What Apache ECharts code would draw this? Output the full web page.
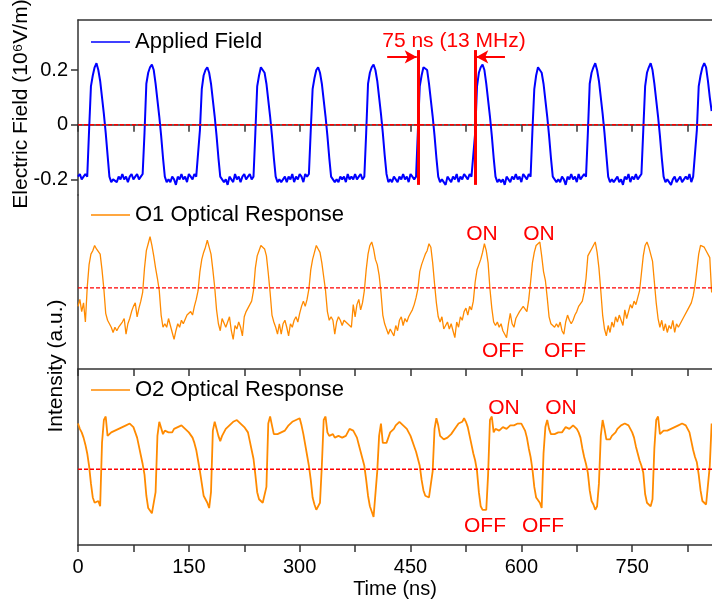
<!DOCTYPE html>
<html>
<head>
<meta charset="utf-8">
<script src="https://cdn.jsdelivr.net/npm/echarts@6.0.0/dist/echarts.min.js"></script>
<style>
  html, body { margin: 0; padding: 0; background: #fff; }
  #main { width: 712px; height: 606px; }
</style>
</head>
<body>
<div id="main"></div>
<script>
// samples are 2.5 ns apart, starting at t = 0
var STEP_NS = 2.5;

// applied field, 10^6 V/m
var fieldValues = [
  -0.19,-0.18,-0.20,-0.19,-0.18,-0.19,
  -0.02,0.14,0.18,0.21,0.225,0.20,0.16,0.10,0.04,-0.03,-0.11,-0.19,-0.21,-0.20,
  -0.20,-0.21,-0.19,-0.20,-0.18,-0.20,-0.19,-0.21,-0.19,-0.18,-0.20,-0.19,-0.18,-0.20,-0.19,-0.18,
  -0.03,0.15,0.19,0.21,0.22,0.20,0.15,0.09,0.03,-0.04,-0.12,-0.19,-0.21,-0.20,
  -0.21,-0.19,-0.20,-0.22,-0.19,-0.20,-0.18,-0.20,-0.19,-0.21,-0.18,-0.19,-0.20,-0.18,-0.19,-0.19,
  -0.02,0.13,0.18,0.20,0.21,0.19,0.15,0.09,0.03,-0.04,-0.12,-0.19,-0.20,-0.21,
  -0.20,-0.22,-0.19,-0.20,-0.21,-0.18,-0.20,-0.19,-0.21,-0.19,-0.18,-0.20,-0.19,-0.18,-0.20,-0.19,
  -0.03,0.14,0.18,0.21,0.215,0.19,0.15,0.09,0.03,-0.04,-0.12,-0.19,-0.21,-0.20,
  -0.21,-0.20,-0.19,-0.21,-0.19,-0.20,-0.18,-0.21,-0.19,-0.20,-0.18,-0.19,-0.21,-0.18,-0.19,-0.18,
  -0.02,0.13,0.17,0.20,0.21,0.19,0.15,0.09,0.03,-0.04,-0.12,-0.19,-0.20,-0.21,
  -0.20,-0.21,-0.19,-0.20,-0.19,-0.21,-0.18,-0.20,-0.19,-0.20,-0.18,-0.20,-0.19,-0.18,-0.20,-0.19,
  -0.03,0.15,0.19,0.21,0.22,0.20,0.16,0.10,0.04,-0.03,-0.11,-0.18,-0.21,-0.20,
  -0.21,-0.19,-0.20,-0.21,-0.19,-0.20,-0.18,-0.20,-0.19,-0.21,-0.18,-0.19,-0.20,-0.19,
  -0.02,0.14,0.18,0.21,0.215,0.20,0.15,0.09,0.03,-0.04,-0.12,-0.19,-0.21,-0.20,
  -0.20,-0.22,-0.19,-0.20,-0.21,-0.19,-0.20,-0.18,-0.21,-0.19,-0.20,-0.18,-0.19,-0.20,-0.18,-0.19,-0.19,
  -0.03,0.14,0.19,0.21,0.22,0.20,0.15,0.09,0.03,-0.04,-0.12,-0.19,-0.21,-0.20,
  -0.21,-0.20,-0.22,-0.19,-0.20,-0.21,-0.19,-0.20,-0.18,-0.20,-0.19,-0.21,-0.18,-0.19,-0.20,-0.18,-0.19,
  -0.02,0.13,0.18,0.21,0.215,0.19,0.15,0.09,0.03,-0.04,-0.12,-0.19,-0.20,-0.21,
  -0.20,-0.21,-0.19,-0.20,-0.22,-0.19,-0.20,-0.18,-0.20,-0.19,-0.21,-0.18,-0.20,-0.19,-0.18,-0.19,
  -0.03,0.15,0.19,0.21,0.225,0.20,0.16,0.10,0.04,-0.03,-0.11,-0.19,-0.21,-0.20,
  -0.21,-0.20,-0.19,-0.21,-0.20,-0.22,-0.19,-0.20,-0.18,-0.21,-0.19,-0.20,-0.18,-0.20,-0.19,-0.18,
  -0.02,0.14,0.19,0.21,0.225,0.20,0.15,0.09,0.03,-0.04,-0.12,-0.19,-0.21,-0.20,
  -0.20,-0.22,-0.20,-0.19,-0.21,-0.20,-0.19,-0.21,-0.20,-0.19,-0.20,-0.18,-0.21,-0.19,-0.19,
  -0.02,0.14,0.18,0.21,0.225,0.21,0.16,0.10,0.05
];

// O1 optical response, a.u. (0 = panel bottom, 1 = panel top)
var o1Values = [
  0.36,0.40,0.33,0.38,0.27,0.47,0.60,0.66,0.68,0.71,0.69,0.70,0.66,0.57,0.46,0.32,
  0.28,0.27,0.24,0.21,0.24,0.22,0.24,0.25,0.27,0.29,0.20,0.26,0.29,0.33,0.36,0.38,0.30,0.35,0.39,0.44,
  0.58,0.68,0.72,0.76,0.71,0.65,0.58,0.52,0.45,0.31,0.24,
  0.26,0.24,0.29,0.25,0.21,0.17,0.22,0.26,0.24,0.28,0.26,0.27,0.31,0.30,0.33,0.31,0.36,0.40,0.45,
  0.56,0.63,0.67,0.70,0.74,0.70,0.66,0.57,0.47,0.34,0.26,
  0.22,0.29,0.28,0.24,0.27,0.30,0.22,0.17,0.25,0.23,0.27,0.24,0.19,0.30,0.33,0.35,0.37,0.39,0.45,
  0.58,0.65,0.68,0.71,0.70,0.69,0.65,0.55,0.44,0.31,0.27,
  0.24,0.20,0.26,0.20,0.26,0.28,0.24,0.19,0.26,0.24,0.28,0.30,0.27,0.32,0.36,0.39,0.36,0.40,0.46,
  0.57,0.63,0.67,0.71,0.69,0.67,0.61,0.53,0.45,0.33,0.28,
  0.30,0.28,0.20,0.27,0.30,0.28,0.25,0.28,0.27,0.26,0.25,0.24,0.37,0.30,0.37,0.40,0.34,0.38,0.45,
  0.57,0.66,0.71,0.73,0.69,0.63,0.60,0.54,0.44,0.31,0.26,
  0.26,0.20,0.23,0.24,0.19,0.25,0.22,0.28,0.30,0.25,0.29,0.27,0.30,0.32,0.34,0.37,0.41,
  0.46,0.56,0.60,0.63,0.66,0.68,0.72,0.70,0.61,0.49,0.38,0.30,0.27,
  0.30,0.23,0.24,0.27,0.23,0.26,0.22,0.18,0.27,0.24,0.30,0.28,0.33,0.35,0.31,0.36,0.34,0.39,
  0.50,0.57,0.60,0.63,0.67,0.72,0.68,0.61,0.46,0.35,0.27,
  0.25,0.27,0.24,0.26,0.22,0.20,0.18,0.26,0.32,0.26,0.24,0.29,0.31,0.33,0.34,0.36,0.37,0.33,0.40,0.50,
  0.61,0.67,0.71,0.72,0.73,0.65,0.56,0.51,0.41,0.30,0.26,
  0.27,0.24,0.26,0.24,0.27,0.22,0.20,0.27,0.31,0.28,0.26,0.28,0.31,0.33,0.36,0.37,0.39,0.44,0.52,
  0.65,0.67,0.69,0.71,0.73,0.67,0.58,0.45,0.31,0.23,0.19,
  0.25,0.21,0.27,0.24,0.30,0.27,0.31,0.32,0.25,0.34,0.29,0.33,0.37,0.35,0.39,0.37,0.41,0.45,0.55,
  0.65,0.71,0.73,0.70,0.70,0.62,0.50,0.38,0.29,0.24,
  0.28,0.22,0.26,0.21,0.25,0.23,0.28,0.21,0.26,0.24,0.25,0.28,0.30,0.31,0.34,0.36,0.38,0.42,0.48,
  0.57,0.66,0.71,0.70,0.70,0.68,0.67,0.64,0.44
];

// O2 optical response, a.u. (0 = panel bottom, 1 = panel top)
var o2Values = [
  0.69,0.66,0.64,0.61,0.57,0.52,0.45,0.35,0.27,0.24,0.23,0.25,0.22,0.58,0.71,0.73,
  0.62,0.62,0.64,0.63,0.65,0.64,0.66,0.65,0.67,0.66,0.68,0.67,0.69,0.68,0.67,0.64,0.61,0.56,0.51,0.46,
  0.40,0.28,0.21,0.20,0.18,0.19,0.30,0.62,0.70,0.71,
  0.63,0.65,0.66,0.64,0.65,0.64,0.66,0.65,0.67,0.66,0.68,0.67,0.66,0.65,0.64,0.63,0.61,0.58,0.54,0.48,
  0.42,0.35,0.28,0.26,0.24,0.21,0.30,0.65,0.70,0.70,
  0.62,0.59,0.62,0.64,0.66,0.67,0.68,0.69,0.70,0.71,0.71,0.70,0.69,0.69,0.67,0.66,0.64,0.59,0.54,0.49,
  0.40,0.30,0.26,0.25,0.24,0.24,0.33,0.69,0.73,0.68,
  0.63,0.62,0.63,0.64,0.64,0.65,0.65,0.66,0.68,0.69,0.70,0.71,0.71,0.72,0.72,0.68,0.63,0.57,0.51,0.45,
  0.37,0.27,0.23,0.20,0.21,0.24,0.45,0.71,0.73,0.64,
  0.62,0.63,0.63,0.61,0.61,0.62,0.63,0.61,0.60,0.62,0.63,0.66,0.66,0.65,0.63,0.61,0.57,0.53,0.49,0.45,
  0.37,0.28,0.22,0.19,0.16,0.15,0.42,0.62,0.69,0.58,
  0.59,0.58,0.61,0.64,0.65,0.66,0.68,0.69,0.70,0.69,0.68,0.67,0.66,0.64,0.62,0.59,0.56,0.53,0.49,0.45,
  0.37,0.31,0.28,0.29,0.27,0.26,0.42,0.66,0.72,0.68,
  0.62,0.63,0.60,0.60,0.61,0.62,0.63,0.64,0.66,0.67,0.69,0.69,0.70,0.72,0.70,0.67,0.62,0.57,0.52,0.48,
  0.42,0.30,0.22,0.20,0.19,0.20,0.40,0.71,0.73,0.64,
  0.66,0.65,0.65,0.66,0.67,0.66,0.66,0.67,0.68,0.67,0.68,0.69,0.69,0.70,0.69,0.68,0.65,0.61,0.55,0.50,
  0.43,0.33,0.27,0.26,0.24,0.21,0.52,0.67,0.71,0.66,
  0.63,0.64,0.63,0.63,0.64,0.65,0.64,0.65,0.67,0.66,0.66,0.67,0.68,0.67,0.66,0.64,0.61,0.55,0.50,0.46,
  0.41,0.31,0.25,0.23,0.20,0.22,0.35,0.62,0.71,0.66,
  0.60,0.61,0.60,0.62,0.63,0.64,0.66,0.67,0.68,0.69,0.69,0.70,0.68,0.66,0.64,0.61,0.56,0.52,0.48,0.45,
  0.41,0.29,0.24,0.23,0.22,0.26,0.55,0.71,0.73,0.63,
  0.64,0.65,0.64,0.65,0.66,0.66,0.67,0.67,0.68,0.68,0.69,0.69,0.70,0.68,0.66,0.64,0.59,0.54,0.50,0.47,
  0.40,0.31,0.25,0.24,0.23,0.24,0.45,0.69
];

var timeTicks = [0, 75, 150, 225, 300, 375, 450, 525, 600, 675, 750, 825];
var timeLabels = [0, 150, 300, 450, 600, 750];
var fieldTicks = [-0.2, 0, 0.2];
var periodMarks = [460.4, 537];   // the two red lines, ns
var fieldMiddle = 0;
var o1Middle = 0.466;
var o2Middle = 0.43;

var T_MAX = 858;

function toPoints(values) {
  return values.map(function (v, i) { return [i * STEP_NS, v]; });
}

var FONT = '"Liberation Sans", Arial, sans-serif';
var AXIS_COLOR = '#333';
var RED = '#ff0000';
var ORANGE = '#ff8a00';

var chart = echarts.init(document.getElementById('main'));

function timeAxis(gridIndex, withLabels) {
  return {
    type: 'value', gridIndex: gridIndex, min: 0, max: T_MAX,
    axisLine: { show: true, lineStyle: { color: AXIS_COLOR, width: 1.5 } },
    axisTick: { show: true, customValues: timeTicks, length: 7, lineStyle: { color: AXIS_COLOR, width: 1.5 } },
    axisLabel: {
      show: withLabels, customValues: timeLabels, margin: 12,
      fontSize: 20, fontFamily: FONT, color: '#000'
    },
    splitLine: { show: false },
    name: withLabels ? 'Time (ns)' : '',
    nameLocation: 'middle', nameGap: 34,
    nameTextStyle: { fontSize: 20, fontFamily: FONT, color: '#000' }
  };
}

function plainYAxis(gridIndex) {
  return {
    type: 'value', gridIndex: gridIndex, min: 0, max: 1,
    axisLine: { show: true, lineStyle: { color: AXIS_COLOR, width: 1.5 } },
    axisTick: { show: false }, axisLabel: { show: false }, splitLine: { show: false }
  };
}

function legendFor(name, top) {
  return {
    data: [name], left: 91, top: top, padding: 0,
    icon: 'rect', itemWidth: 39, itemHeight: 1.5, itemGap: 0,
    selectedMode: false,
    textStyle: { fontSize: 22, fontFamily: FONT, color: '#000' }
  };
}

// red dashed reference line across one panel
function dashedSeries(axisIndex, y) {
  return {
    type: 'line', xAxisIndex: axisIndex, yAxisIndex: axisIndex,
    data: [[0, y], [T_MAX, y]], symbol: 'none', silent: true, z: 3,
    lineStyle: { color: RED, type: [4, 2], width: 1.4 }
  };
}

function redText(text, x, y) {
  return {
    type: 'text', x: x, y: y,
    style: { text: text, fill: RED, fontSize: 21, fontFamily: FONT, align: 'center', verticalAlign: 'middle' }
  };
}

var solidStyle = { color: RED, type: 'solid', width: 3 };
var arrowStyle = { color: RED, type: 'solid', width: 2 };

var periodMarkLine = {
  silent: true, symbol: ['none', 'none'], label: { show: false },
  lineStyle: solidStyle,
  data: [
    [{ coord: [periodMarks[0], 0.273], lineStyle: solidStyle },
     { coord: [periodMarks[0], -0.22] }],
    [{ coord: [periodMarks[1], 0.273], lineStyle: solidStyle },
     { coord: [periodMarks[1], -0.22] }],
    [{ coord: [418.4, 0.248], symbol: 'none', lineStyle: arrowStyle },
     { coord: [periodMarks[0] - 2, 0.248], symbol: 'arrow', symbolSize: [10, 12] }],
    [{ coord: [577.8, 0.248], symbol: 'none', lineStyle: arrowStyle },
     { coord: [periodMarks[1] + 2, 0.248], symbol: 'arrow', symbolSize: [10, 12] }]
  ]
};

var option = {
  animation: false,
  backgroundColor: '#fff',
  grid: [
    { left: 78, right: 0, top: 20, height: 175 },
    { left: 78, right: 0, top: 195, height: 174 },
    { left: 78, right: 0, top: 369, height: 176 }
  ],
  legend: [
    legendFor('Applied Field', 31),
    legendFor('O1 Optical Response', 204),
    legendFor('O2 Optical Response', 379)
  ],
  xAxis: [
    timeAxis(0, false),
    timeAxis(1, false),
    timeAxis(2, true),
    {
      type: 'value', gridIndex: 0, position: 'top', min: 0, max: T_MAX,
      axisLine: { show: true, lineStyle: { color: AXIS_COLOR, width: 1.5 } },
      axisTick: { show: false }, axisLabel: { show: false }, splitLine: { show: false }
    }
  ],
  yAxis: [
    {
      type: 'value', gridIndex: 0, min: -0.257, max: 0.383,
      axisLine: { show: true, lineStyle: { color: AXIS_COLOR, width: 1.5 } },
      axisTick: { show: true, customValues: fieldTicks, length: 7, lineStyle: { color: AXIS_COLOR, width: 1.5 } },
      axisLabel: {
        customValues: fieldTicks, margin: 10,
        fontSize: 20, fontFamily: FONT, color: '#000',
        formatter: function (v) { return Math.abs(v) < 1e-9 ? '0' : v.toFixed(1); }
      },
      splitLine: { show: false }
    },
    plainYAxis(1),
    plainYAxis(2)
  ],
  series: [
    dashedSeries(0, fieldMiddle),
    dashedSeries(1, o1Middle),
    dashedSeries(2, o2Middle),
    {
      name: 'Applied Field', type: 'line', xAxisIndex: 0, yAxisIndex: 0,
      data: toPoints(fieldValues), symbol: 'none', color: '#0000ff', z: 2,
      lineStyle: { color: '#0000ff', width: 2 },
      markLine: periodMarkLine
    },
    {
      name: 'O1 Optical Response', type: 'line', xAxisIndex: 1, yAxisIndex: 1,
      data: toPoints(o1Values), symbol: 'none', color: ORANGE, z: 2,
      lineStyle: { color: ORANGE, width: 1.3 }
    },
    {
      name: 'O2 Optical Response', type: 'line', xAxisIndex: 2, yAxisIndex: 2,
      data: toPoints(o2Values), symbol: 'none', color: ORANGE, z: 2,
      lineStyle: { color: ORANGE, width: 1.8 }
    }
  ],
  graphic: [
    {
      type: 'text', x: 21, y: 104, rotation: Math.PI / 2,
      style: { text: 'Electric Field (10\u2076V/m)', fill: '#000', fontSize: 21, fontFamily: FONT, align: 'center', verticalAlign: 'middle' }
    },
    {
      type: 'text', x: 56, y: 366, rotation: Math.PI / 2,
      style: { text: 'Intensity (a.u.)', fill: '#000', fontSize: 21, fontFamily: FONT, align: 'center', verticalAlign: 'middle' }
    },
    redText('75 ns (13 MHz)', 454, 41),
    redText('ON', 482, 234),
    redText('ON', 539, 234),
    redText('OFF', 503, 351),
    redText('OFF', 565, 351),
    redText('ON', 504, 408),
    redText('ON', 561, 408),
    redText('OFF', 485, 526),
    redText('OFF', 543, 526)
  ]
};

chart.setOption(option);
</script>
</body>
</html>
